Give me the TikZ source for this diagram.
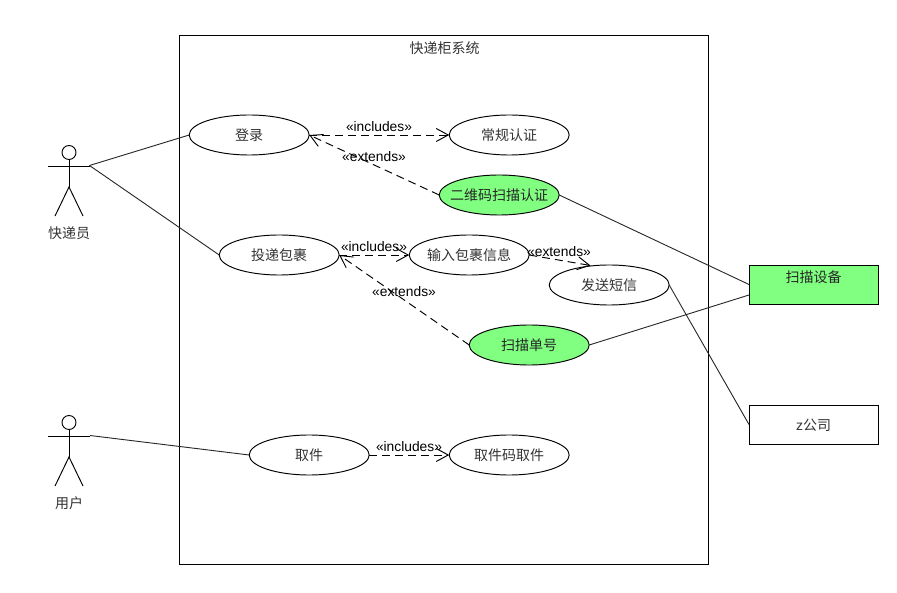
\documentclass[tikz,border=0pt]{standalone}
\usepackage{fontspec}
\setmainfont{Liberation Sans}
\newfontfamily\cjk{Noto Sans CJK SC}
\usetikzlibrary{arrows.meta,shapes.geometric}
\definecolor{ucgreen}{RGB}{128,255,128}
\definecolor{txt}{gray}{0.2}
\newcommand{\uclabel}[1]{\makebox[0pt]{#1}}
\tikzset{
  x=1pt,y=-1pt,
  usecase/.style={draw,line width=0.95pt,ellipse,minimum width=120pt,minimum height=40pt,inner sep=0pt,outer sep=0pt,text=txt,font=\fontsize{14}{14}\cjk},
  hot/.style={fill=ucgreen,text=black!85},
  sysbox/.style={draw,line width=0.95pt,minimum width=129pt,minimum height=39pt,inner sep=0pt,outer sep=0pt},
  labeltext/.style={text=txt,inner sep=0pt,font=\fontsize{14}{14}\cjk},
  stereo/.style={inner sep=0pt,font=\fontsize{13.8}{14}\selectfont},
  dep/.style={line width=0.95pt,dash pattern=on 8pt off 5pt,-{Straight Barb[length=12pt,width=13pt,line width=0.95pt]}},
  assoc/.style={line width=0.9pt,black!85},
  stick/.style={line width=0.95pt}
}
\begin{document}
\begin{tikzpicture}
\useasboundingbox (0,0) rectangle (897,593);
\fill[white] (0,0) rectangle (897,593);
% system boundary
\node[draw,line width=0.95pt,minimum width=529pt,minimum height=529pt,inner sep=0pt,outer sep=0pt] (system) at (443.5,299.5) {};
\node[labeltext] (systitle) at (444.5,48) {快递柜系统};
% actors
\foreach \n/\dy in {courier/0,customer/270}{
  \begin{scope}[yshift=-\dy pt]
    \draw[stick] (69,152.5) circle (7);
    \draw[stick] (69,159.5) -- (69,187);
    \draw[stick] (48,166) -- (90,166);
    \draw[stick] (55,216) -- (69,187) -- (83,216);
  \end{scope}
}
\coordinate (courierhand) at (89.5,165.5);
\coordinate (customerhand) at (90,435.5);
\node[labeltext] (couriername) at (69,233) {快递员};
\node[labeltext] (customername) at (69,503) {用户};
% use cases
\node[usecase] (login) at (249.2,135) {\uclabel{登录}};
\node[usecase] (normal) at (509.2,135) {\uclabel{常规认证}};
\node[usecase,hot] (qr) at (499.2,195) {\uclabel{二维码扫描认证}};
\node[usecase] (deliver) at (279.2,255) {\uclabel{投递包裹}};
\node[usecase] (input) at (469.2,255) {\uclabel{输入包裹信息}};
\node[usecase] (sms) at (609.2,285) {\uclabel{发送短信}};
\node[usecase,hot] (scan) at (529.2,345) {\uclabel{扫描单号}};
\node[usecase] (pickup) at (309.2,455) {\uclabel{取件}};
\node[usecase] (code) at (509.2,455) {\uclabel{取件码取件}};
% external systems
\node[sysbox,fill=ucgreen] (device) at (813.5,284.5) {};
\node[labeltext,text=black!85] (devicename) at (813.5,277) {扫描设备};
\node[sysbox] (company) at (813.5,424.5) {};
\node[labeltext] (companyname) at (813.5,425.3) {{\fontsize{14}{14}\fontspec{Liberation Sans}z}公司};
\coordinate (smstop) at (590.5,265.5);
\coordinate (devicelow) at (749,295);
% associations
\draw[assoc] (courierhand) -- (login.west);
\draw[assoc] (courierhand) -- (deliver.west);
\draw[assoc] (customerhand) -- (pickup.west);
\draw[assoc] (qr.east) -- (device.west);
\draw[assoc] (scan.east) -- (devicelow);
\draw[assoc] (sms.east) -- (company.west);
% dependencies
\draw[dep] (login.east) -- (normal.west);
\draw[dep] (qr.west) -- (login.east);
\draw[dep] (deliver.east) -- (input.west);
\draw[dep] (scan.west) -- (deliver.east);
\draw[dep] (input.east) -- (smstop);
\draw[dep] (pickup.east) -- (code.west);
% stereotypes
\node[stereo] (l1) at (379,127) {«includes»};
\node[stereo] (l2) at (374,157) {«extends»};
\node[stereo] (l3) at (374,247) {«includes»};
\node[stereo] (l4) at (559,252) {«extends»};
\node[stereo] (l5) at (404,292) {«extends»};
\node[stereo] (l6) at (409,447) {«includes»};
\end{tikzpicture}
\end{document}
